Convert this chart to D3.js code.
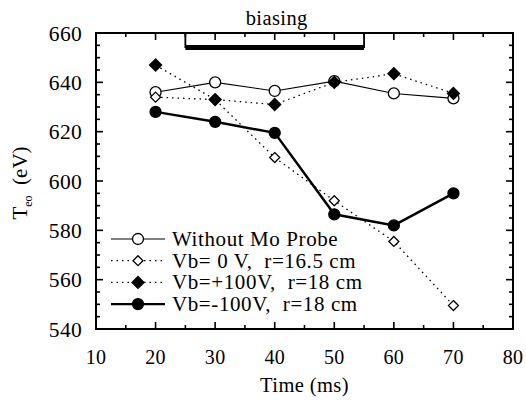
<!DOCTYPE html>
<html>
<head>
<meta charset="utf-8">
<script src="https://cdn.jsdelivr.net/npm/d3@7"></script>
<style>
  body { margin: 0; background: #fff; }
  text { font-family: "Liberation Serif", "Times New Roman", serif; fill: #000; white-space: pre; }
</style>
</head>
<body>
<svg id="chart" width="526" height="401"></svg>
<script>
// data
const times = [20, 30, 40, 50, 60, 70];
const withoutProbe = [636, 640, 636.5, 640.5, 635.5, 633.5];
const vb0 = [634, 633, 609.5, 592, 575.5, 549.5];
const vbPlus100 = [647, 633, 631, 640, 643.5, 635.5];
const vbMinus100 = [628, 624, 619.5, 586.5, 582, 595];
const biasInterval = [25, 55];
const xTicks = [10, 20, 30, 40, 50, 60, 70, 80];
const yTicks = [540, 560, 580, 600, 620, 640, 660];

const series = [
  { name: "Without Mo Probe", values: withoutProbe, marker: "circle", filled: false, dash: null, width: 1.1 },
  { name: "Vb= 0 V,  r=16.5 cm", values: vb0, marker: "diamond", filled: false, dash: "1.5,4", width: 1.3 },
  { name: "Vb=+100V,  r=18 cm", values: vbPlus100, marker: "diamond", filled: true, dash: "1.5,4", width: 1.3 },
  { name: "Vb=-100V,  r=18 cm", values: vbMinus100, marker: "circle", filled: true, dash: null, width: 2.4 }
];

const svg = d3.select("#chart");
const margin = { top: 33, right: 13, bottom: 72, left: 96 };
const width = +svg.attr("width") - margin.left - margin.right;
const height = +svg.attr("height") - margin.top - margin.bottom;

const x = d3.scaleLinear().domain([10, 80]).range([0, width]);
const y = d3.scaleLinear().domain([540, 660]).range([height, 0]);

const g = svg.append("g").attr("transform", "translate(" + margin.left + "," + margin.top + ")");

// ticks on all four sides, pointing inward
const xMinor = d3.range(10, 80.1, 5);
const yMinor = d3.range(540, 660.1, 5);
const tickLine = (sel) => sel.attr("stroke", "#000").attr("stroke-width", 1.6);

xMinor.forEach((t) => {
  const len = t % 10 === 0 ? 7 : 4;
  tickLine(g.append("line").attr("x1", x(t)).attr("x2", x(t)).attr("y1", height).attr("y2", height - len));
  tickLine(g.append("line").attr("x1", x(t)).attr("x2", x(t)).attr("y1", 0).attr("y2", len));
});
yMinor.forEach((t) => {
  const len = t % 20 === 0 ? 7 : 4;
  tickLine(g.append("line").attr("x1", 0).attr("x2", len).attr("y1", y(t)).attr("y2", y(t)));
  tickLine(g.append("line").attr("x1", width).attr("x2", width - len).attr("y1", y(t)).attr("y2", y(t)));
});

g.append("rect")
  .attr("width", width).attr("height", height)
  .attr("fill", "none").attr("stroke", "#000").attr("stroke-width", 2);

// tick labels
g.selectAll("text.xt").data(xTicks).join("text")
  .attr("class", "xt")
  .attr("x", (d) => x(d)).attr("y", height + 35)
  .attr("text-anchor", "middle").attr("font-size", 20).attr("letter-spacing", 0.3)
  .text((d) => d);

g.selectAll("text.yt").data(yTicks).join("text")
  .attr("class", "yt")
  .attr("x", -14).attr("y", (d) => y(d) + 7.5)
  .attr("text-anchor", "end").attr("font-size", 21.5).attr("letter-spacing", 0.3)
  .text((d) => d);

// axis titles
svg.append("text")
  .attr("x", margin.left + width / 2).attr("y", 392)
  .attr("text-anchor", "middle").attr("font-size", 20.5).attr("letter-spacing", 0.4)
  .text("Time (ms)");

const yTitle = svg.append("text")
  .attr("transform", "translate(27," + (margin.top + height / 2 + 2) + ") rotate(-90)")
  .attr("text-anchor", "middle").attr("font-size", 21);
yTitle.append("tspan").text("T");
yTitle.append("tspan").attr("font-size", 12).attr("dy", 5).text("eo");
yTitle.append("tspan").attr("dy", -5).text("  (eV)");

// biasing bracket
const bracket = g.append("g");
bracket.append("path")
  .attr("d", "M" + x(biasInterval[0]) + ",0V15M" + x(biasInterval[1]) + ",0V15")
  .attr("stroke", "#000").attr("stroke-width", 1.8).attr("fill", "none");
bracket.append("line")
  .attr("x1", x(biasInterval[0])).attr("x2", x(biasInterval[1]))
  .attr("y1", 14.5).attr("y2", 14.5)
  .attr("stroke", "#000").attr("stroke-width", 5);
svg.append("text")
  .attr("x", margin.left + x((biasInterval[0] + biasInterval[1]) / 2) + 2).attr("y", 25)
  .attr("text-anchor", "middle").attr("font-size", 20.5).attr("letter-spacing", 0.4)
  .text("biasing");

// markers
function drawMarker(sel, s, cx, cy) {
  if (s.marker === "circle") {
    sel.append("circle")
      .attr("cx", cx).attr("cy", cy).attr("r", 5.5)
      .attr("fill", s.filled ? "#000" : "#fff")
      .attr("stroke", "#000").attr("stroke-width", 1.3);
  } else {
    const r = s.filled ? 6 : 5;
    sel.append("path")
      .attr("d", "M" + cx + "," + (cy - r) + "L" + (cx + r) + "," + cy + "L" + cx + "," + (cy + r) + "L" + (cx - r) + "," + cy + "Z")
      .attr("fill", s.filled ? "#000" : "#fff")
      .attr("stroke", "#000").attr("stroke-width", 1.3);
  }
}

const line = d3.line().x((d, i) => x(times[i])).y((d) => y(d));

series.forEach((s) => {
  g.append("path")
    .datum(s.values)
    .attr("d", line)
    .attr("fill", "none")
    .attr("stroke", "#000")
    .attr("stroke-width", s.width)
    .attr("stroke-dasharray", s.dash);
});
series.forEach((s) => {
  const mg = g.append("g");
  s.values.forEach((v, i) => drawMarker(mg, s, x(times[i]), y(v)));
});

// legend
const legend = g.append("g").attr("transform", "translate(15,206)");
series.forEach((s, i) => {
  const row = legend.append("g").attr("transform", "translate(0," + i * 21.7 + ")");
  row.append("line")
    .attr("x1", 0).attr("x2", 54).attr("y1", 0).attr("y2", 0)
    .attr("stroke", "#000").attr("stroke-width", s.width)
    .attr("stroke-dasharray", s.dash);
  drawMarker(row, s, 27, 0);
  row.append("text")
    .attr("x", 61).attr("y", 7)
    .attr("font-size", 21).attr("letter-spacing", 0.6)
    .text(s.name);
});
</script>
</body>
</html>
